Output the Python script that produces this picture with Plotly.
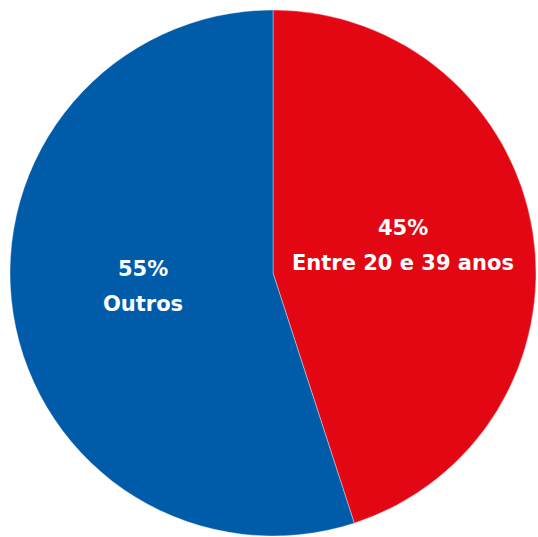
import math
import plotly.graph_objects as go

# Age-group share
labels = ["Entre 20 e 39 anos", "Outros"]
shares = [45, 55]
colors = ["#E30613", "#005CA9"]

W, H = 538, 537
CX, CY, R = 273, 273, 263          # pie centre and radius in pixels
LABEL_FRAC = 0.5                    # radial position of the labels
LINE_GAP = 35                       # distance between the two label lines
BLOCK_LIFT = 7                      # raise label blocks slightly
FONT = dict(family="DejaVu Sans", size=21, color="white", weight="bold")

fig = go.Figure(
    go.Pie(
        labels=labels,
        values=shares,
        sort=False,
        direction="clockwise",
        rotation=0,
        marker=dict(colors=colors, line=dict(color="rgba(255,255,255,0.6)", width=0.6)),
        textinfo="none",
        hoverinfo="skip",
        showlegend=False,
        domain=dict(x=[(CX - R) / W, (CX + R) / W],
                    y=[(H - CY - R) / H, (H - CY + R) / H]),
    )
)

# Labels placed on each slice's bisector
total = sum(shares)
start = 0.0
annotations = []
for lab, val in zip(labels, shares):
    span = 360.0 * val / total
    mid = math.radians(start + span / 2)
    start += span
    px = CX + LABEL_FRAC * R * math.sin(mid)
    py = CY - LABEL_FRAC * R * math.cos(mid) - BLOCK_LIFT
    pct = f"{round(100 * val / total)}%"
    for txt, dy in ((pct, -LINE_GAP / 2), (lab, LINE_GAP / 2)):
        annotations.append(dict(
            x=px / W, y=1 - (py + dy) / H, xref="paper", yref="paper",
            text=txt, showarrow=False, font=FONT,
            xanchor="center", yanchor="middle",
        ))

fig.update_layout(
    width=W,
    height=H,
    margin=dict(l=0, r=0, t=0, b=0),
    paper_bgcolor="white",
    plot_bgcolor="white",
    showlegend=False,
    annotations=annotations,
)

fig.write_html("out.html", config=dict(displayModeBar=False))
